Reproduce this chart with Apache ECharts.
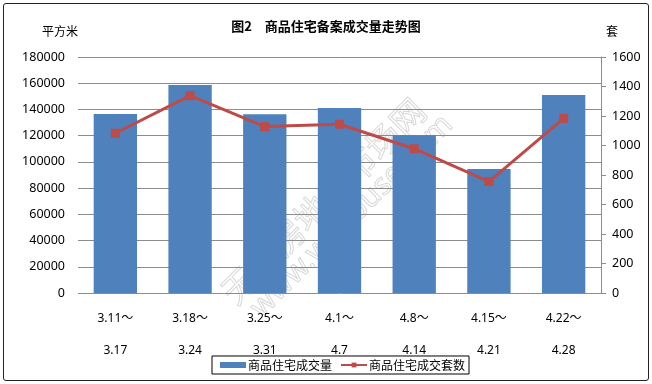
<!DOCTYPE html>
<html><head><meta charset="utf-8">
<script src="https://cdn.jsdelivr.net/npm/echarts@6/dist/echarts.min.js"></script>
<style>
html,body{margin:0;padding:0;background:#fff;}
#frame{position:absolute;left:3px;top:3px;width:644px;height:376px;border:1px solid #222;border-radius:3px;}
#c{position:absolute;left:0;top:0;width:652px;height:384px;}
</style></head>
<body><div id="frame"></div><div id="c"></div>
<script>
const categories = ['3.11～\n3.17','3.18～\n3.24','3.25～\n3.31','4.1～\n4.7','4.8～\n4.14','4.15～\n4.21','4.22～\n4.28'];
const areaValues = [136500, 158600, 136300, 141100, 120300, 94600, 151000];
const unitValues = [1083, 1338, 1128, 1144, 978, 755, 1184];
const seriesNames = ['商品住宅成交量', '商品住宅成交套数'];
const titleText = '图2　商品住宅备案成交量走势图';

const chart = echarts.init(document.getElementById('c'));
const font = '"Noto Sans", "Noto Sans CJK SC", sans-serif';
chart.setOption({
  animation: false,
  backgroundColor: 'transparent',
  title: {text: titleText, left: 'center', top: 15,
    textStyle: {fontSize: 13, fontWeight: 'bold', color: '#000', fontFamily: '"Noto Sans CJK SC", sans-serif'}},
  graphic: [
    {type: 'text', left: 42, top: 25, style: {text: '平方米', font: '12px "Noto Sans CJK SC"', fill: '#000'}},
    {type: 'text', left: 606, top: 25, style: {text: '套', font: '12px "Noto Sans CJK SC"', fill: '#000'}},
    {type: 'text', x: 215, y: 285, rotation: Math.PI/4, style: {text: '无锡房地产市场网', font: '34px "Noto Sans CJK SC"', fill: 'rgba(0,0,0,0)', stroke: '#d8d8d8', lineWidth: 1}},
    {type: 'text', x: 245, y: 302, rotation: Math.PI/4, style: {text: 'www.wxhouse.com', font: '30px "Noto Sans"', fill: 'rgba(0,0,0,0)', stroke: '#d8d8d8', lineWidth: 1}}
  ],
  legend: {
    bottom: 10, left: 212,
    itemWidth: 26, itemHeight: 6, itemGap: 8,
    borderColor: '#000', borderWidth: 1, padding: [3, 4, 3, 8], borderRadius: 0,
    textStyle: {fontSize: 12, color: '#000', fontFamily: '"Noto Sans CJK SC", sans-serif', padding: [0, 0, 0, -3]},
    data: [{name: seriesNames[0], icon: 'rect'}, {name: seriesNames[1]}]
  },
  grid: {left: 78, right: 51, top: 57, bottom: 91},
  xAxis: {
    type: 'category', data: categories,
    axisLine: {show: false}, axisTick: {show: false},
    axisLabel: {fontSize: 12, color: '#000', fontFamily: font, lineHeight: 32, margin: 10}
  },
  yAxis: [
    {type: 'value', min: 0, max: 180000, interval: 20000,
      axisLine: {show: false}, axisTick: {show: false},
      splitLine: {lineStyle: {color: '#8c8c8c', width: 1}},
      axisLabel: {fontSize: 12.5, color: '#000', fontFamily: font, margin: 13, formatter: v => String(v)}},
    {type: 'value', min: 0, max: 1600, interval: 200, position: 'right',
      axisLine: {show: true, lineStyle: {color: '#8c8c8c'}},
      axisTick: {show: true, inside: false, length: 5, lineStyle: {color: '#8c8c8c'}},
      splitLine: {show: false},
      axisLabel: {fontSize: 12.5, color: '#000', fontFamily: font, margin: 11, formatter: v => String(v)}}
  ],
  series: [
    {name: seriesNames[0], type: 'bar', data: areaValues, barWidth: '58%',
      itemStyle: {color: '#4F81BD'}},
    {name: seriesNames[1], type: 'line', yAxisIndex: 1, data: unitValues,
      symbol: 'rect', symbolSize: 9,
      lineStyle: {color: '#BE4B48', width: 3},
      itemStyle: {color: '#BE4B48'}}
  ]
});
</script></body></html>
